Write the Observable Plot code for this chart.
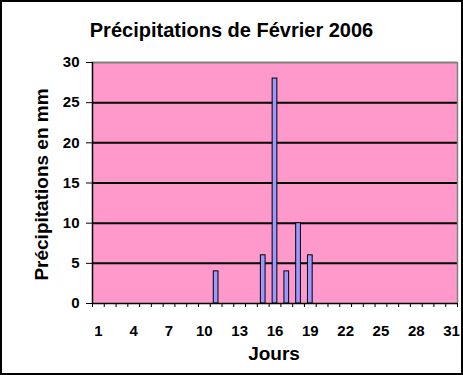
<!DOCTYPE html>
<html>
<head>
<meta charset="utf-8">
<script src="https://cdn.jsdelivr.net/npm/d3@7"></script>
<script src="https://cdn.jsdelivr.net/npm/@observablehq/plot@0.6"></script>
<style>
  html, body { margin: 0; padding: 0; background: #fff; }
  #wrap { position: relative; width: 463px; height: 375px; overflow: hidden; }
  #border { position: absolute; left: 0; top: 0; width: 463px; height: 375px; box-sizing: border-box;
            border: 2px solid #000; pointer-events: none; }
  svg { display: block; }
</style>
</head>
<body>
<div id="wrap"><div id="border"></div></div>
<script>
// Data
const rainDays = [11, 15, 16, 17, 18, 19];
const rainMm   = [4, 6, 28, 4, 10, 6];
const xTickLabels = [1, 4, 7, 10, 13, 16, 19, 22, 25, 28, 31];
const yTicks = [0, 5, 10, 15, 20, 25, 30];
const gridValues = [5, 10, 15, 20, 25];
const dayCount = 31;
const titleText = "Précipitations de Février 2006";
const xLabel = "Jours";
const yLabel = "Précipitations en mm";

const data = rainDays.map((d, i) => ({day: d, mm: rainMm[i]}));
const boundaries = d3.range(0, dayCount + 1).map(i => i + 0.5);
const half = 0.2;

const font = "'Liberation Sans', Arial, sans-serif";

const chart = Plot.plot({
  width: 463,
  height: 375,
  marginLeft: 92,
  marginRight: 6,
  marginTop: 62,
  marginBottom: 72,
  x: {domain: [0.5, dayCount + 0.5]},
  y: {domain: [0, 30]},
  style: {background: "transparent", fontFamily: font, fontSize: "15px", color: "#000"},
  marks: [
    Plot.frame({fill: "#FF99CC", stroke: null}),
    Plot.ruleY(gridValues, {stroke: "#000", strokeWidth: 2}),
    Plot.rectY(data, {x1: d => d.day - half, x2: d => d.day + half, y: "mm", fill: "#9999FF", stroke: "#000", strokeWidth: 1}),
    Plot.ruleY([30], {stroke: "#808080", strokeWidth: 2}),
    Plot.ruleX([dayCount + 0.5], {stroke: "#808080", strokeWidth: 1.5}),
    Plot.ruleX([0.5], {stroke: "#000", strokeWidth: 1.5}),
    Plot.ruleY([0], {stroke: "#000", strokeWidth: 1.5}),
    Plot.axisY({ticks: yTicks, tickSize: 6, tickPadding: 7, fontWeight: "bold", fontSize: 15, label: null, tickFormat: d => String(d)}),
    Plot.axisX({ticks: boundaries, tickSize: 4, tickFormat: () => "", label: null}),
    Plot.axisX({ticks: xTickLabels, tickSize: 0, tickPadding: 22, fontWeight: "bold", fontSize: 15, label: null, tickFormat: d => String(d)}),
    Plot.text([titleText], {frameAnchor: "top", textAnchor: "middle", lineAnchor: "middle", dx: -43.5, dy: -32, fontSize: 20, fontWeight: "bold", fill: "#000"}),
    Plot.text([xLabel], {frameAnchor: "bottom", textAnchor: "middle", lineAnchor: "middle", dx: -1, dy: 50, fontSize: 19, fontWeight: "bold", fill: "#000"}),
    Plot.text([yLabel], {frameAnchor: "left", textAnchor: "middle", lineAnchor: "middle", dx: -51, dy: 1.5, rotate: -90, fontSize: 19, fontWeight: "bold", fill: "#000"})
  ]
});
document.getElementById("wrap").prepend(chart);
</script>
</body>
</html>
